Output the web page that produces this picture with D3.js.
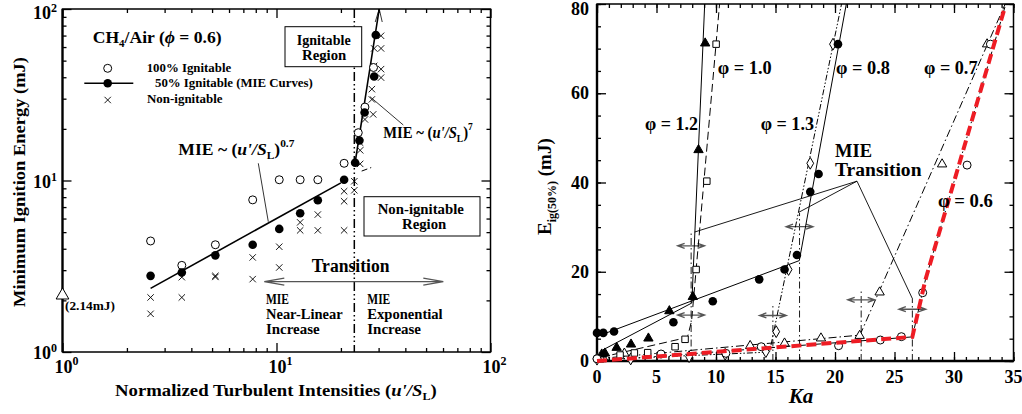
<!DOCTYPE html>
<html>
<head>
<meta charset="utf-8">
<script src="https://cdn.jsdelivr.net/npm/d3@7"></script>
<style>
  body { margin: 0; background: #fff; }
  svg { font-family: "Liberation Serif", "Times New Roman", serif; font-weight: bold; }
</style>
</head>
<body>
<svg id="svg" width="1022" height="414"></svg>
<script>
// ---------- left panel : CH4/Air phi = 0.6 (log-log) ----------
const openU  = [2.58, 3.61, 5.18, 7.74, 10.3, 12.9, 15.6, 20.7, 24.1, 25.9, 28.4];
const openE  = [4.44, 3.2, 4.22, 7.71, 10.1, 10.1, 10.1, 12.6, 19.0, 26.8, 45.6];
const fullU  = [2.58, 3.61, 5.18, 7.74, 10.3, 12.9, 15.6, 20.7, 23.3, 24.4, 25.8, 28.6, 29.1];
const fullE  = [2.78, 2.91, 3.66, 4.22, 5.22, 6.44, 7.67, 10.1, 12.7, 17.1, 24.9, 40.4, 70.5];
const crossU = [2.58, 2.58, 3.61, 3.61, 5.18, 5.18, 7.74, 7.74, 10.3, 10.3, 12.9, 12.9, 15.6, 15.6,
                20.7, 20.7, 20.7, 23.1, 23.1, 24.6, 24.6, 24.6, 25.9, 28.3, 27.9, 27.9, 30.8, 30.8,
                30.8, 28.6, 30.8, 28.6];
const crossE = [2.08, 1.67, 2.08, 2.73, 2.78, 2.74, 3.56, 2.66, 4.11, 3.11, 5.7, 5.12, 6.33, 5.12,
                8.66, 7.57, 5.12, 9.9, 8.77, 12.5, 15.0, 16.6, 22.7, 24.3, 34.1, 29.7, 44.6, 39.8,
                58.9, 58.9, 69.8, 46.6];
const linFitU = [2.58, 20.0];   const linFitE = [2.35, 9.69];   // MIE ~ (u'/SL)^0.7
const linExtU = [25.0, 27.7];   const linExtE = [11.35, 11.9];
const expFitU = [23.3, 30.2];   const expFitE = [12.7, 100];    // MIE ~ (u'/SL)^7
const laminarU = [1];           const laminarE = [2.14];
const transU = 23.1;
const logMajor = [1, 10, 100];
const logMinor = [2, 3, 4, 5, 6, 7, 8, 9, 20, 30, 40, 50, 60, 70, 80, 90];

// ---------- right panel : E_ig(50%) vs Ka ----------
const ka12 = [0.4, 0.67, 1.65, 2.86, 4.32, 6.08, 8.05, 8.53, 9.09];
const e12  = [1.5, 1.72, 2.99, 3.73, 5.08, 11.2, 14.4, 47.3, 71.2];
const fit12Ka = [0.5, 7.97, 9.05];  const fit12E = [2.5, 13.0, 80];
const ka10 = [0.3, 1.94, 3.14, 4.26, 6.56, 7.4, 8.33, 9.23, 10.01];
const e10  = [0.5, 1.34, 1.8, 1.87, 3.2, 4.86, 20.5, 40.3, 71.0];
const fit10Ka = [0.3, 7.6, 7.95, 10.3];  const fit10E = [0.8, 5.3, 9.0, 80];
const ka08 = [0, 0.53, 1.43, 6.42, 9.73, 13.63, 15.76, 16.8, 17.92, 18.62, 20.25, 0];
const e08  = [6.3, 6.3, 6.6, 8.7, 13.4, 18.3, 20.5, 23.75, 37.9, 41.9, 71.0, 0.5];
const fit08Ka = [0, 17.0, 20.95];  const fit08E = [5.5, 22.5, 80];
const ka13 = [0, 2.83, 7.74, 10.77, 14.19, 15.06, 16.1, 17.92, 19.83];
const e13  = [0.4, 0.45, 0.97, 1.5, 2.1, 6.57, 20.5, 44.3, 71.0];
const fit13Ka = [0, 14.5, 20.55];  const fit13E = [0.3, 2.0, 80];
const ka07 = [0.5, 2.3, 12.87, 15.76, 18.82, 22.07, 23.75, 29.0, 32.78];
const e07  = [0.8, 1.7, 3.4, 3.96, 5.1, 5.67, 15.4, 44.1, 71.0];
const fit07Ka = [0, 22.1, 34.3];  const fit07E = [0.5, 5.8, 80];
const ka06 = [0, 5.38, 10.83, 13.8, 20.3, 23.81, 25.58, 27.37, 31.1, 33.06];
const e06  = [0.5, 1.57, 1.72, 3.2, 3.43, 4.7, 5.45, 15.3, 43.9, 71.0];
const fit06Ka = [0, 26.5, 27.6, 34.3];  const fit06E = [0, 5.4, 18.2, 79.5];
// transition markers (vertical line top, double arrows)
const trKa  = [7.91, 14.78, 17.02, 22.2, 26.5];
const trTop = [28.7, 12.6, 33.2, 15.9, 14.1];
const arrKa = [7.91, 7.91, 14.78, 17.02, 22.2, 26.5];
const arrE  = [25.8, 10.3, 10.2, 30.1, 13.7, 11.6];
const kaTicks = [0, 5, 10, 15, 20, 25, 30, 35];
const eTicks = [0, 20, 40, 60, 80];

// ---------- helpers ----------
const svg = d3.select('#svg');

function fit(t, x0, x1) {
  const b = t.node().getBBox();
  const s = (x1 - x0) / b.width;
  t.attr('transform', `translate(${x0},0) scale(${s},1) translate(${-b.x},0)`);
}

function addText(g, x, y, str, size, anchor) {
  return g.append('text').attr('x', x).attr('y', y)
    .attr('font-size', size).attr('text-anchor', anchor || 'start').text(str);
}

function marker(g, type, x, y) {
  if (type === 'open') {
    g.append('circle').attr('cx', x).attr('cy', y).attr('r', 4)
      .attr('fill', '#fff').attr('stroke', '#000').attr('stroke-width', 1);
  } else if (type === 'dot') {
    g.append('circle').attr('cx', x).attr('cy', y).attr('r', 4.3).attr('fill', '#000');
  } else if (type === 'cross') {
    const s = 3.2;
    g.append('path').attr('d', `M${x - s},${y - s}L${x + s},${y + s}M${x - s},${y + s}L${x + s},${y - s}`)
      .attr('stroke', '#000').attr('stroke-width', 0.9);
  } else {
    const sym = { tri: d3.symbolTriangle, ftri: d3.symbolTriangle, square: d3.symbolSquare, diamond: d3.symbolDiamond }[type];
    const size = { tri: 38, ftri: 38, square: 42, diamond: 40 }[type];
    g.append('path').attr('d', d3.symbol(sym, size)()).attr('transform', `translate(${x},${y})`)
      .attr('fill', type === 'ftri' ? '#000' : '#fff').attr('stroke', '#000').attr('stroke-width', 1);
  }
}

function ticks(g, x, y, x0, x1, y0, y1, xVals, yVals, len) {
  g.append('g').attr('transform', `translate(0,${y0})`)
    .call(d3.axisBottom(x).tickValues(xVals).tickSize(-len).tickFormat(''));
  g.append('g').attr('transform', `translate(0,${y1})`)
    .call(d3.axisTop(x).tickValues(xVals).tickSize(-len).tickFormat(''));
  g.append('g').attr('transform', `translate(${x0},0)`)
    .call(d3.axisLeft(y).tickValues(yVals).tickSize(-len).tickFormat(''));
  g.append('g').attr('transform', `translate(${x1},0)`)
    .call(d3.axisRight(y).tickValues(yVals).tickSize(-len).tickFormat(''));
  g.selectAll('.domain').remove();
  g.selectAll('.tick line').attr('stroke', '#000').attr('stroke-width', 1.3);
}

// ================= LEFT PANEL =================
const xL = d3.scaleLog().domain([1, 100]).range([62.5, 490.5]);
const yL = d3.scaleLog().domain([1, 100]).range([352, 9]);
const L = svg.append('g');

ticks(L.append('g'), xL, yL, 62.5, 490.5, 352, 9, logMinor, logMinor, 4);
ticks(L.append('g'), xL, yL, 62.5, 490.5, 352, 9, logMajor, logMajor, 9);
L.append('rect').attr('x', 62.5).attr('y', 9).attr('width', 428).attr('height', 343)
  .attr('fill', 'none').attr('stroke', '#000').attr('stroke-width', 1.5);
L.append('line').attr('x1', 62.5).attr('x2', 62.5).attr('y1', 9).attr('y2', 352)
  .attr('stroke', '#000').attr('stroke-width', 2.2);

// tick labels
logMajor.forEach((v, i) => {
  const t = addText(L, 57, Math.max(yL(v) + 7, 19), '10', 18, 'end');
  t.append('tspan').attr('dy', -7).attr('font-size', 12).text(i);
  const b = addText(L, xL(v) + 4, 373, '10', 18, 'middle');
  b.append('tspan').attr('dy', -8).attr('font-size', 12).text(i);
});

// axis titles
L.append('text').attr('transform', 'translate(25,182) rotate(-90)').attr('text-anchor', 'middle')
  .attr('font-size', 17).attr('textLength', 250).attr('lengthAdjust', 'spacingAndGlyphs')
  .text('Minimum Ignition Energy (mJ)');
const xt = addText(L, 0, 396, 'Normalized Turbulent Intensities (', 17);
xt.append('tspan').attr('font-style', 'italic').text("u'/S");
xt.append('tspan').attr('font-size', 11).attr('dy', 4).text('L');
xt.append('tspan').attr('dy', -4).text(')');
fit(xt, 115, 437);

// vertical transition line
L.append('line').attr('x1', xL(transU)).attr('x2', xL(transU)).attr('y1', 9).attr('y2', 352)
  .attr('stroke', '#000').attr('stroke-width', 1.5).attr('stroke-dasharray', '9,3,1.5,3,1.5,3');

// fit lines
const lineL = d3.line().x(d => xL(d[0])).y(d => yL(d[1]));
L.append('path').attr('d', lineL(d3.zip(linFitU, linFitE))).attr('stroke', '#000')
  .attr('stroke-width', 1.6).attr('fill', 'none');
L.append('path').attr('d', lineL(d3.zip(linExtU, linExtE))).attr('stroke', '#000')
  .attr('stroke-width', 1).attr('fill', 'none').attr('stroke-dasharray', '6,3');
L.append('path').attr('d', lineL(d3.zip(expFitU, expFitE))).attr('stroke', '#000')
  .attr('stroke-width', 1.6).attr('fill', 'none');
// arrow head at top of exponential line
{
  const tx = xL(expFitU[1]), ty = yL(expFitE[1]);
  L.append('path').attr('d', `M${tx - 4},${ty + 13}L${tx},${ty}L${tx + 3},${ty + 13}`)
    .attr('stroke', '#000').attr('stroke-width', 0.8).attr('fill', 'none');
}

// markers
crossU.forEach((u, i) => marker(L, 'cross', xL(u), yL(crossE[i])));
openU.forEach((u, i) => marker(L, 'open', xL(u), yL(openE[i])));
fullU.forEach((u, i) => marker(L, 'dot', xL(u), yL(fullE[i])));
L.append('path').attr('d', d3.symbol(d3.symbolTriangle, 70)())
  .attr('transform', `translate(${xL(laminarU[0])},${yL(laminarE[0])})`)
  .attr('fill', '#fff').attr('stroke', '#000').attr('stroke-width', 1);
const lam = addText(L, 0, 310, '(2.14mJ)', 12.5);
fit(lam, 65, 115);

// legend
const ch = addText(L, 0, 43, 'CH', 16);
ch.append('tspan').attr('font-size', 10).attr('dy', 4).text('4');
ch.append('tspan').attr('dy', -4).text('/Air (');
ch.append('tspan').attr('font-style', 'italic').text('ϕ');
ch.append('tspan').text(' = 0.6)');
fit(ch, 92.7, 221.7);
marker(L, 'open', 107.7, 68.3);
L.append('line').attr('x1', 84.3).attr('x2', 133.3).attr('y1', 83.3).attr('y2', 83.3)
  .attr('stroke', '#000').attr('stroke-width', 1.6);
marker(L, 'dot', 107.7, 83.3);
marker(L, 'cross', 107.7, 100);
fit(addText(L, 0, 72, '100% Ignitable', 12.5), 146.7, 231.7);
fit(addText(L, 0, 87.5, '50% Ignitable (MIE Curves)', 12.5), 155, 313);
fit(addText(L, 0, 103, 'Non-ignitable', 12.5), 147, 223);

// fit labels
function mieLabel(x0, x1, y, power) {
  const t = addText(L, 0, y, 'MIE ~ (', 17);
  t.append('tspan').attr('font-style', 'italic').text("u'/S");
  t.append('tspan').attr('font-size', 11).attr('dy', 4).text('L');
  t.append('tspan').attr('dy', -4).text(')');
  t.append('tspan').attr('font-size', 11).attr('dy', -8).text(power);
  fit(t, x0, x1);
}
mieLabel(178.3, 295, 155, '0.7');
mieLabel(383.3, 473.3, 138, '7');
L.append('line').attr('x1', 258.3).attr('y1', 163.3).attr('x2', 268.3).attr('y2', 221.7)
  .attr('stroke', '#000').attr('stroke-width', 0.8);
L.append('line').attr('x1', 370).attr('y1', 96.7).attr('x2', 403.3).attr('y2', 125)
  .attr('stroke', '#000').attr('stroke-width', 0.8);

// region boxes
L.append('rect').attr('x', 285).attr('y', 26.7).attr('width', 76.7).attr('height', 40)
  .attr('fill', '#fff').attr('stroke', '#000').attr('stroke-width', 1);
fit(addText(L, 0, 45, 'Ignitable', 15), 296.7, 351);
fit(addText(L, 0, 60, 'Region', 15), 302, 347);
L.append('rect').attr('x', 364).attr('y', 196.7).attr('width', 116).attr('height', 39.3)
  .attr('fill', '#fff').attr('stroke', '#000').attr('stroke-width', 1);
fit(addText(L, 0, 214.3, 'Non-ignitable', 15), 377.7, 464.3);
fit(addText(L, 0, 229.3, 'Region', 15), 402, 447);

// transition annotation
fit(addText(L, 0, 271.7, 'Transition', 19), 311.7, 390);
L.append('path').attr('d', 'M264.3,281.7L443.3,281.7M284.3,278.2L264.3,281.7L284.3,285.2M423.3,278.2L443.3,281.7L423.3,285.2')
  .attr('stroke', '#555').attr('stroke-width', 1.3).attr('fill', 'none');
fit(addText(L, 0, 304.3, 'MIE', 15), 266, 289);
fit(addText(L, 0, 319.3, 'Near-Linear', 15), 266, 343);
fit(addText(L, 0, 334.3, 'Increase', 15), 266, 320);
fit(addText(L, 0, 304.3, 'MIE', 15), 367.3, 390.3);
fit(addText(L, 0, 319.3, 'Exponential', 15), 367.3, 442.7);
fit(addText(L, 0, 334.3, 'Increase', 15), 367.3, 421.3);

// ================= RIGHT PANEL =================
const xR = d3.scaleLinear().domain([0, 35]).range([597, 1013.5]);
const yR = d3.scaleLinear().domain([0, 80]).range([361, 4]);
const R = svg.append('g');

ticks(R.append('g'), xR, yR, 597, 1013.5, 361, 4, d3.range(0, 36, 1), d3.range(0, 81, 5), 4);
ticks(R.append('g'), xR, yR, 597, 1013.5, 361, 4, kaTicks, eTicks, 9);
R.append('rect').attr('x', 597).attr('y', 4).attr('width', 416.5).attr('height', 357)
  .attr('fill', 'none').attr('stroke', '#000').attr('stroke-width', 1.5);
R.append('path').attr('d', 'M597,4L597,361L1013.5,361').attr('stroke', '#000')
  .attr('stroke-width', 2.4).attr('fill', 'none');

kaTicks.forEach(v => addText(R, xR(v), 383, v, 18, 'middle'));
eTicks.forEach(v => addText(R, 589, Math.max(yR(v) + 6, 15), v, 18, 'end'));
addText(R, 801, 403, 'Ka', 21, 'middle').attr('font-style', 'italic');
const yl = R.append('text').attr('transform', 'translate(551,235) rotate(-90)').attr('font-size', 19);
yl.append('tspan').text('E');
yl.append('tspan').attr('font-size', 12).attr('dy', 5).text('ig(50%)');
yl.append('tspan').attr('dy', -5).text(' (mJ)');

// transition verticals and arrows
trKa.forEach((k, i) => {
  R.append('line').attr('x1', xR(k)).attr('x2', xR(k)).attr('y1', yR(0)).attr('y2', yR(trTop[i]))
    .attr('stroke', '#000').attr('stroke-width', 0.9).attr('stroke-dasharray', '7,3,1.5,3');
});
arrKa.forEach((k, i) => {
  const cx = xR(k), cy = yR(arrE[i]), h = 13.5;
  R.append('path')
    .attr('d', `M${cx - h},${cy}L${cx + h},${cy}M${cx - h + 7},${cy - 2.5}L${cx - h},${cy}L${cx - h + 7},${cy + 2.5}M${cx + h - 7},${cy - 2.5}L${cx + h},${cy}L${cx + h - 7},${cy + 2.5}`)
    .attr('stroke', '#555').attr('stroke-width', 1.3).attr('fill', 'none');
});

// series lines
const lineR = d3.line().x(d => xR(d[0])).y(d => yR(d[1]));
const series = [
  { ka: ka13, e: e13, fk: fit13Ka, fe: fit13E, m: 'diamond', dash: '6,2,1.5,2,1.5,2' },
  { ka: ka07, e: e07, fk: fit07Ka, fe: fit07E, m: 'tri', dash: '8,3,1.5,3' },
  { ka: ka10, e: e10, fk: fit10Ka, fe: fit10E, m: 'square', dash: '8,4' },
  { ka: ka12, e: e12, fk: fit12Ka, fe: fit12E, m: 'ftri', dash: null },
  { ka: ka08, e: e08, fk: fit08Ka, fe: fit08E, m: 'dot', dash: null },
  { ka: ka06, e: e06, fk: fit06Ka, fe: fit06E, m: 'open', dash: '8,3,1.5,3' }
];
series.forEach(s => {
  R.append('path').attr('d', lineR(d3.zip(s.fk, s.fe))).attr('fill', 'none')
    .attr('stroke', '#000').attr('stroke-width', 1).attr('stroke-dasharray', s.dash);
});
series.forEach(s => s.ka.forEach((k, i) => marker(R, s.m, xR(k), yR(s.e[i]))));
// red highlight for phi = 0.6
R.append('path').attr('d', lineR(d3.zip(fit06Ka, fit06E))).attr('fill', 'none')
  .attr('stroke', '#ee1c24').attr('stroke-width', 4).attr('stroke-dasharray', '10,5');

// MIE Transition pointers
const apex = [21.85, 40.3];
[[8.2, 28.9], [16.94, 33.3], [26.48, 14.1]].forEach(p => {
  R.append('line').attr('x1', xR(apex[0])).attr('y1', yR(apex[1])).attr('x2', xR(p[0])).attr('y2', yR(p[1]))
    .attr('stroke', '#000').attr('stroke-width', 0.9);
});
fit(addText(R, 0, 156.7, 'MIE', 19), 835, 872);
fit(addText(R, 0, 176, 'Transition', 19), 835, 922);

// phi labels
function phiLabel(x0, x1, y, v) {
  const t = addText(R, 0, y, 'φ = ' + v, 19);
  fit(t, x0, x1);
}
phiLabel(645, 698, 130, '1.2');
phiLabel(717.7, 771.7, 74, '1.0');
phiLabel(760.7, 814, 130, '1.3');
phiLabel(836, 890, 74, '0.8');
phiLabel(924, 978, 74, '0.7');
phiLabel(938, 993, 206.7, '0.6');
</script>
</body>
</html>
